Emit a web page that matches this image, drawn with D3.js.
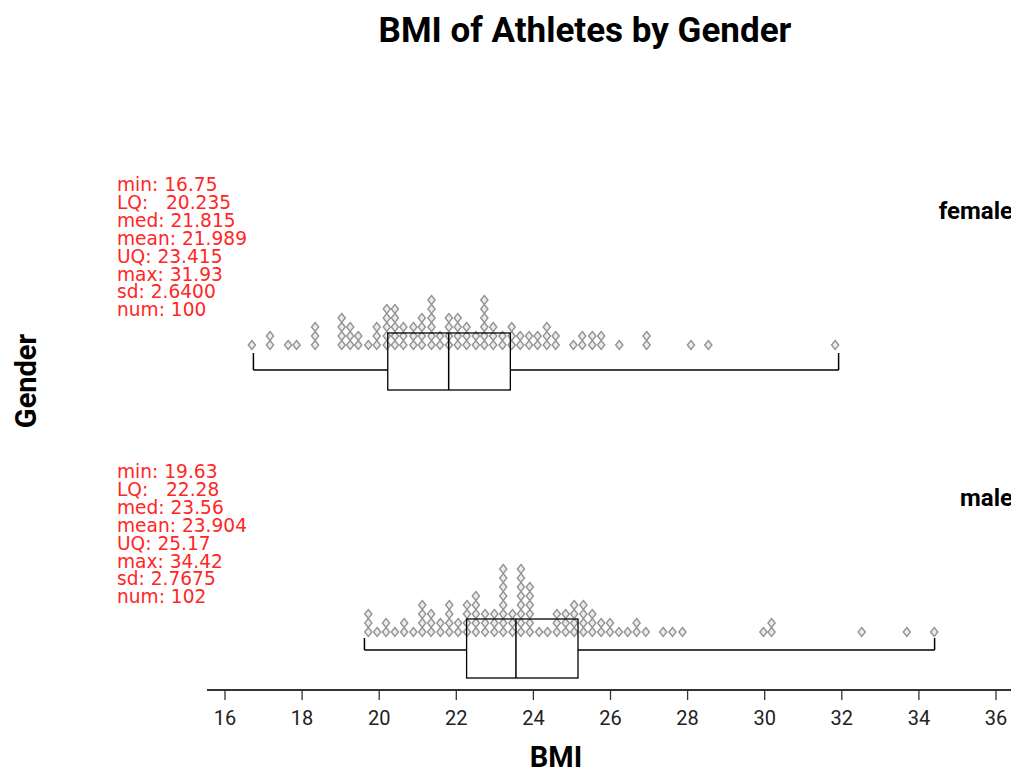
<!DOCTYPE html>
<html>
<head>
<meta charset="utf-8">
<script src="https://cdn.jsdelivr.net/npm/d3@7"></script>
<style>
  html, body { margin: 0; padding: 0; background: #fff; }
  svg { display: block; }
  text { font-family: Roboto, "Liberation Sans", sans-serif; }
</style>
</head>
<body>
<svg id="chart" width="1011" height="772"></svg>
<script>
// ---------------- data ----------------
const groups = ["female", "male"];
const xTicks = [16, 18, 20, 22, 24, 26, 28, 30, 32, 34, 36];

const statNames = ["min", "LQ", "med", "mean", "UQ", "max", "sd", "num"];
const femaleStatText = ["16.75", "20.235", "21.815", "21.989", "23.415", "31.93", "2.6400", "100"];
const maleStatText = ["19.63", "22.28", "23.56", "23.904", "25.17", "34.42", "2.7675", "102"];

// five-number summaries: min, LQ, median, UQ, max
const femaleBox = [16.75, 20.235, 21.815, 23.415, 31.93];
const maleBox = [19.63, 22.28, 23.56, 25.17, 34.42];

// dot-plot columns (binned BMI value) and number of stacked dots
const femaleDotBMI = [16.71, 17.18, 17.65, 17.87, 18.35, 19.04, 19.26, 19.47, 19.73, 19.95,
  20.21, 20.42, 20.64, 20.90, 21.12, 21.37, 21.59, 21.82, 22.05, 22.28,
  22.52, 22.74, 22.97, 23.21, 23.45, 23.67, 23.90, 24.12, 24.36, 24.59,
  25.05, 25.28, 25.54, 25.77, 26.24, 26.95, 28.10, 28.55, 31.84];
const femaleDotCount = [1, 2, 1, 1, 3, 4, 3, 2, 1, 3,
  5, 5, 3, 3, 4, 6, 2, 4, 4, 3,
  2, 6, 3, 2, 3, 2, 2, 2, 3, 2,
  1, 2, 2, 2, 1, 2, 1, 1, 1];

const maleDotBMI = [19.73, 19.96, 20.19, 20.42, 20.66, 20.90, 21.13, 21.36, 21.60, 21.83,
  22.06, 22.29, 22.52, 22.76, 23.00, 23.23, 23.47, 23.69, 23.92, 24.16,
  24.38, 24.62, 24.85, 25.07, 25.31, 25.54, 25.77, 26.00, 26.23, 26.46,
  26.69, 26.93, 27.38, 27.62, 27.88, 29.98, 30.19, 32.53, 33.70, 34.41];
const maleDotCount = [3, 1, 2, 1, 2, 1, 4, 3, 2, 4,
  2, 4, 5, 3, 3, 8, 3, 8, 6, 1,
  1, 3, 3, 4, 4, 3, 2, 2, 1, 1,
  2, 1, 1, 1, 1, 1, 2, 1, 1, 1];

// ---------------- layout ----------------
const svg = d3.select("#chart");
const x = d3.scaleLinear().domain([16, 36]).range([224.5, 995.5]);

const panels = [
  { name: groups[0], stats: femaleStatText, box: femaleBox, bmi: femaleDotBMI, count: femaleDotCount,
    textTop: 185, labelY: 219, dotBase: 345, boxTop: 333, boxBot: 390, whiskY: 370, capTop: 353 },
  { name: groups[1], stats: maleStatText, box: maleBox, bmi: maleDotBMI, count: maleDotCount,
    textTop: 472, labelY: 506, dotBase: 632, boxTop: 619, boxBot: 678, whiskY: 650, capTop: 638 }
];

const dotStep = 9;
const diamond = "M0,-4.5L3.6,0L0,4.5L-3.6,0Z";

// title
svg.append("text")
  .attr("x", 585).attr("y", 42)
  .attr("text-anchor", "middle")
  .style("font-size", "35px").style("font-weight", "bold")
  .text("BMI of Athletes by Gender");

panels.forEach(p => {
  const g = svg.append("g");

  // group label (runs to the right edge, like the original)
  g.append("text")
    .attr("x", 1013).attr("y", p.labelY)
    .attr("text-anchor", "end")
    .style("font-size", "24px").style("font-weight", "bold")
    .text(p.name);

  // stats text
  const st = g.append("text")
    .attr("fill", "#ff2626")
    .style("font-size", "18.6px")
    .style("font-family", "'DejaVu Sans', sans-serif")
    .attr("xml:space", "preserve")
    .style("white-space", "pre");
  statNames.forEach((nm, i) => {
    const pad = nm === "LQ" ? "   " : " ";
    st.append("tspan")
      .attr("x", 117)
      .attr("y", p.textTop + 6 + i * 17.9)
      .text(nm + ":" + pad + p.stats[i]);
  });

  // dots
  const pts = [];
  p.bmi.forEach((v, i) => {
    for (let k = 0; k < p.count[i]; k++) pts.push({ v: v, k: k });
  });
  g.selectAll("path.dot").data(pts).enter().append("path")
    .attr("class", "dot")
    .attr("d", diamond)
    .attr("transform", d => `translate(${x(d.v)},${p.dotBase - d.k * dotStep})`)
    .attr("fill", "#ececec")
    .attr("stroke", "#939393")
    .attr("stroke-width", 1.4);

  // box plot
  const [mn, lq, md, uq, mx] = p.box;
  g.append("line")
    .attr("x1", x(mn)).attr("x2", x(lq))
    .attr("y1", p.whiskY).attr("y2", p.whiskY)
    .attr("stroke", "#000").attr("stroke-width", 1.3);
  g.append("line")
    .attr("x1", x(uq)).attr("x2", x(mx))
    .attr("y1", p.whiskY).attr("y2", p.whiskY)
    .attr("stroke", "#000").attr("stroke-width", 1.3);
  [mn, mx].forEach(v => {
    g.append("line")
      .attr("x1", x(v)).attr("x2", x(v))
      .attr("y1", p.capTop).attr("y2", p.whiskY)
      .attr("stroke", "#000").attr("stroke-width", 1.5);
  });
  g.append("rect")
    .attr("x", x(lq)).attr("y", p.boxTop)
    .attr("width", x(uq) - x(lq)).attr("height", p.boxBot - p.boxTop)
    .attr("fill", "none").attr("stroke", "#000").attr("stroke-width", 1.3);
  g.append("line")
    .attr("x1", x(md)).attr("x2", x(md))
    .attr("y1", p.boxTop).attr("y2", p.boxBot)
    .attr("stroke", "#000").attr("stroke-width", 1.5);
});

// x axis
svg.append("line")
  .attr("x1", 207).attr("x2", 1011)
  .attr("y1", 690).attr("y2", 690)
  .attr("stroke", "#333").attr("stroke-width", 2);

const axis = svg.append("g")
  .attr("transform", "translate(0,690)")
  .call(d3.axisBottom(x).tickValues(xTicks).tickSize(10).tickSizeOuter(0).tickPadding(11));
axis.select(".domain").remove();
axis.selectAll(".tick line").attr("stroke", "#333").attr("stroke-width", 1.3);
axis.selectAll(".tick text")
  .attr("fill", "#222")
  .style("font-size", "20px")
  .style("font-family", "Roboto, sans-serif");

// axis titles
svg.append("text")
  .attr("x", 556).attr("y", 767)
  .attr("text-anchor", "middle")
  .style("font-size", "29px").style("font-weight", "bold")
  .text("BMI");

svg.append("text")
  .attr("transform", "translate(36,381) rotate(-90)")
  .attr("text-anchor", "middle")
  .style("font-size", "29px").style("font-weight", "bold")
  .text("Gender");
</script>
</body>
</html>
